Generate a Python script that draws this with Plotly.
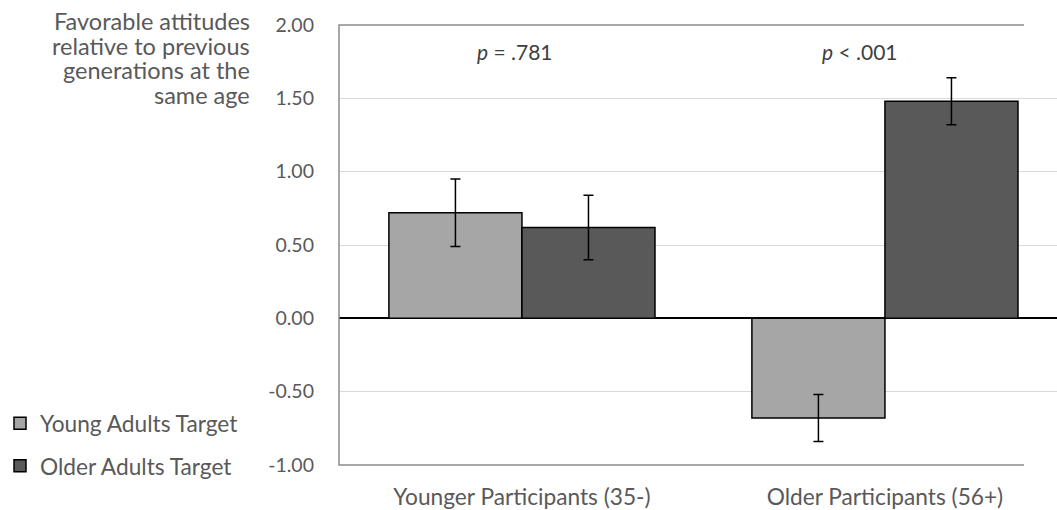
import plotly.graph_objects as go

# ---- data ----
groups = ["Younger Participants (35-)", "Older Participants (56+)"]
group_pos = [0, 1]
young_target = [0.72, -0.68]
young_err = [0.23, 0.16]
older_target = [0.62, 1.48]
older_err = [0.22, 0.16]
p_labels = ["<i>p</i> = .781", "<i>p</i> < .001"]
p_label_x = [-0.02, 0.93]
p_label_y = [1.82, 1.82]
y_ticks = [-1.0, -0.5, 0.0, 0.5, 1.0, 1.5, 2.0]
y_ticktext = [f"{v:.2f}" for v in y_ticks]
y_title_lines = ["Favorable attitudes", "relative to previous", "generations at the", "same age"]

FONT = "Lato"
TXT = "#595959"

fig = go.Figure()
fig.add_trace(go.Bar(
    x=group_pos, y=young_target, name="Young Adults Target",
    marker=dict(color="#a6a6a6", line=dict(color="black", width=1.5)),
    error_y=dict(type="data", array=young_err, color="black", thickness=1.5, width=5),
    legendgroup="a",
))
fig.add_trace(go.Bar(
    x=group_pos, y=older_target, name="Older Adults Target",
    marker=dict(color="#595959", line=dict(color="black", width=1.5)),
    error_y=dict(type="data", array=older_err, color="black", thickness=1.5, width=5),
    legendgroup="b",
))

for xx, yy, t in zip(p_label_x, p_label_y, p_labels):
    fig.add_annotation(x=xx, y=yy, xref="x", yref="y", text=t, showarrow=False,
                       font=dict(family=FONT, size=21, color="#404040"))

# multi-line y-axis title, right aligned, with tight line spacing
line_centers_px = [21, 45.5, 70, 94.5]
for cy, line in zip(line_centers_px, y_title_lines):
    fig.add_annotation(x=-0.121, y=1 - (cy - 25) / 440, xref="paper", yref="paper",
                       yanchor="middle", xanchor="right", align="right", text=line,
                       showarrow=False, font=dict(family=FONT, size=23.5, color=TXT))

# frame (left, top, bottom) in gray
frac = (1024 - 339) / 718
fig.add_shape(type="path", xref="paper", yref="paper",
              path=f"M {frac},1 L 0,1 L 0,0 L {frac},0",
              line=dict(color="#8c8c8c", width=1.5), layer="above")

fig.update_layout(
    width=1057, height=510,
    margin=dict(l=339, r=0, t=25, b=45),
    paper_bgcolor="white", plot_bgcolor="white",
    barmode="group", bargap=0.267, bargroupgap=0,
    font=dict(family=FONT, size=20, color=TXT),
    showlegend=True,
    legend=dict(xref="container", yref="container", x=0.0, y=1 - 402 / 510,
                xanchor="left", yanchor="top", traceorder="grouped",
                tracegroupgap=10, font=dict(family=FONT, size=22.7, color=TXT),
                bgcolor="rgba(0,0,0,0)"),
    xaxis=dict(range=[-0.504, 1.474], tickvals=group_pos, ticktext=groups,
               showgrid=False, zeroline=False, showline=False, ticks="",
               automargin=False, ticklabelstandoff=16,
               tickfont=dict(family=FONT, size=22.7, color=TXT)),
    yaxis=dict(range=[-1, 2], tickvals=y_ticks, ticktext=y_ticktext,
               showgrid=True, gridcolor="#d9d9d9", gridwidth=1.2,
               zeroline=True, zerolinecolor="black", zerolinewidth=1.5,
               showline=False, ticks="", automargin=False, ticklabelstandoff=24,
               tickfont=dict(family=FONT, size=19.5, color=TXT)),
)

fig.write_html("out.html", config={"displayModeBar": False},
               post_script="document.body.style.margin='0';")
